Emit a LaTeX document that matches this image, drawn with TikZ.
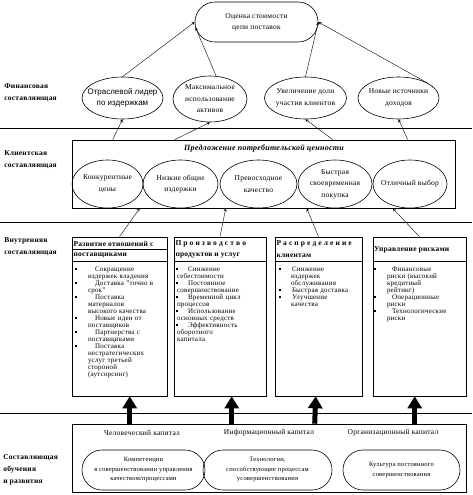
\documentclass[tikz,border=0pt]{standalone}
\usepackage{fontspec}
\setmainfont[LetterSpace=3]{Liberation Serif}
\setsansfont{Liberation Sans}
\usepackage{tikz}
\usetikzlibrary{shapes.geometric,shapes.misc,arrows.meta}

% bullet lists inside the process boxes
\newlength{\pcont}\newlength{\pbul}\newlength{\pfirst}
\newcommand{\pktset}[3]{\setlength{\pcont}{#1}\setlength{\pbul}{#2}\setlength{\pfirst}{#3}}
\newcommand{\pkt}[1]{\par\leftskip=\pcont\noindent\rlap{\hspace*{\dimexpr\pbul-\pcont\relax}\rule[1.5pt]{1.7pt}{1.7pt}}\hspace*{\dimexpr\pfirst-\pcont\relax}#1\par}

\begin{document}
\begin{tikzpicture}[x=1pt,y=-1pt,line width=0.6pt,
  every node/.style={inner sep=0pt},
  txt/.style={font=\fontsize{7.5}{11.5}\selectfont,align=center},
  oval/.style={draw,ellipse,inner xsep=-12pt,inner ysep=-2pt,txt},
  stage/.style={font=\bfseries\fontsize{7.5}{12}\selectfont,align=left,anchor=west},
  procbox/.style={draw,minimum height=159pt},
  hdr/.style={font=\bfseries\fontsize{7.5}{9}\selectfont,anchor=west},
  lst/.style={anchor=north west,align=left,font=\fontsize{7}{7}\selectfont},
  sepline/.style={line width=0.8pt},
  link/.style={-stealth,line width=0.4pt},
  bigarrow/.style={-{Triangle[length=12pt,width=14pt]},line width=5pt}]
\useasboundingbox (0,0) rectangle (472,495);

% layer separators
\draw[sepline] (0,128) -- (472,128);
\draw[sepline] (0,222) -- (472,222);
\draw[sepline] (0,413) -- (472,413);

% layer names
\node[stage] (lfin) at (4,93) {Финансовая\\составляющая};
\node[stage] (lcust) at (4,159.5) {Клиентская\\составляющая};
\node[stage] (lproc) at (4,246.5) {Внутренняя\\составляющая};
\node[stage] (llearn) at (3,470) {Составляющая\\обучения\\и развития};

% top
\node[draw,rounded rectangle,minimum width=123pt,minimum height=40pt,txt] (cost) at (256.5,22) {Оценка стоимости\\цепи поставок};

% financial
\node[oval,minimum width=81pt,minimum height=42pt,font=\sffamily\fontsize{8}{11.5}\selectfont] (fin1) at (122.5,98) {Отраслевой лидер\\по издержкам};
\node[oval,minimum width=74pt,minimum height=46pt] (fin2) at (210,99) {Максимальное\\использование\\активов};
\node[oval,minimum width=82pt,minimum height=42pt] (fin3) at (305.5,98) {Увеличение доли\\участия клиентов};
\node[oval,minimum width=81pt,minimum height=42pt] (fin4) at (398.5,98) {Новые источники\\доходов};
\draw[link] (fin1.north) -- (cost.west);
\draw[link] (fin2.75) -- (cost.185);
\draw[link] (fin3.north) -- (cost.east);
\draw[link] (fin4.north east) -- (cost.east);

% customer
\node[draw,minimum width=383pt,minimum height=68pt] (cust) at (263.5,174) {};
\node[font=\bfseries\itshape\fontsize{8}{10}\selectfont] (offer) at (264,148) {Предложение потребительской ценности};
\node[oval,minimum width=71pt,minimum height=48pt] (val1) at (107.5,184) {Конкурентные\\цены};
\node[oval,minimum width=75pt,minimum height=48pt] (val2) at (180.5,184) {Низкие общие\\издержки};
\node[oval,minimum width=77pt,minimum height=48pt] (val3) at (258.5,184) {Превосходное\\качество};
\node[oval,minimum width=74pt,minimum height=48pt] (val4) at (335,184) {Быстрая\\своевременная\\покупка};
\node[oval,minimum width=74pt,minimum height=48pt] (val5) at (410,184) {Отличный выбор};
\draw[link] ([xshift=41pt]cust.north west) -- (fin1.south);
\draw[link] ([xshift=103pt]cust.north west) -- (fin2.south);
\draw[link] ([xshift=261pt]cust.north west) -- (fin3.south);
\draw[link] ([xshift=336pt]cust.north west) -- (fin4.south);

% internal processes
\node[procbox,minimum width=95pt] (proc1) at (119.5,316.5) {};
\node[procbox,minimum width=92pt] (proc2) at (220,316.5) {};
\node[procbox,minimum width=87pt] (proc3) at (318.5,316.5) {};
\node[procbox,minimum width=93pt] (proc4) at (419.5,316.5) {};
\draw ([yshift=-13pt]proc1.north west) -- ([yshift=-13pt]proc1.north east);
\foreach \p in {proc1,proc2,proc3,proc4}
  \draw ([yshift=-25pt]\p.north west) -- ([yshift=-25pt]\p.north east);

\node[hdr] (h1a) at ([xshift=1.5pt,yshift=-7pt]proc1.north west) {Развитие отношений с};
\node[hdr] (h1b) at ([xshift=1.5pt,yshift=-19pt]proc1.north west) {поставщиками};
\node[hdr] (h2a) at ([xshift=1.5pt,yshift=-7pt]proc2.north west) {П р о и з в о д с т в о};
\node[hdr] (h2b) at ([xshift=1.5pt,yshift=-19pt]proc2.north west) {продуктов и услуг};
\node[hdr] (h3a) at ([xshift=1.5pt,yshift=-7pt]proc3.north west) {Р а с п р е д е л е н и е};
\node[hdr] (h3b) at ([xshift=1.5pt,yshift=-19pt]proc3.north west) {клиентам};
\node[hdr] (h4) at ([xshift=1pt,yshift=-13pt]proc4.north west) {Управление рисками};

\node[lst,text width=95pt] (list1) at ([yshift=-27pt]proc1.north west) {\pktset{16pt}{3pt}{23pt}%
  \pkt{Сокращение\\издержек владения}
  \pkt{Доставка "точно в\\срок"}
  \pkt{Поставка\\материалов\\высокого качества}
  \pkt{Новые идеи от\\поставщиков}
  \pkt{Партнерства с\\поставщиками}
  \pkt{Поставка\\нестратегических\\услуг третьей\\стороной\\(аутсорсинг)}};
\node[lst,text width=92pt] (list2) at ([yshift=-27pt]proc2.north west) {\pktset{3pt}{2pt}{14pt}%
  \pkt{Снижение\\себестоимости}
  \pkt{Постоянное\\совершенствование}
  \pkt{Временной цикл\\процессов}
  \pkt{Использование\\основных средств}
  \pkt{Эффективность\\оборотного\\капитала}};
\node[lst,text width=87pt] (list3) at ([yshift=-27pt]proc3.north west) {\pktset{16pt}{4pt}{17pt}%
  \pkt{Снижение\\издержек\\обслуживания}
  \pkt{Быстрая доставка}
  \pkt{Улучшение\\качества}};
\node[lst,text width=93pt] (list4) at ([yshift=-27pt]proc4.north west) {\pktset{14pt}{1pt}{19pt}%
  \pkt{Финансовые\\риски (высокий\\кредитный\\рейтинг)}
  \pkt{Операционные\\риски}
  \pkt{Технологические\\риски}};

\draw[link] (proc1.north) -- ([xshift=68pt]cust.south west);
\draw[link] (proc2.north) -- ([xshift=154pt]cust.south west);
\draw[link] (proc3.north) -- ([xshift=235pt]cust.south west);
\draw[link] (proc4.north) -- ([xshift=321pt]cust.south west);

% learning and growth
\node[draw,minimum width=394pt,minimum height=68pt] (learn) at (269,458) {};
\node[txt] (hc1) at (142,433) {Человеческий капитал};
\node[txt] (hc2) at (269,433) {Информационный капитал};
\node[txt] (hc3) at (393,433) {Организационный капитал};
\node[draw,rounded corners=20pt,minimum width=123pt,minimum height=40pt,align=center,font=\fontsize{6.5}{9.5}\selectfont] (cap1) at (143.5,470) {Компетенции\\в совершенствовании управления\\качеством/процессами};
\node[draw,rounded corners=20pt,minimum width=129pt,minimum height=40pt,align=center,font=\fontsize{6.5}{9.5}\selectfont] (cap2) at (267.5,470) {Технологии,\\способствующие процессам\\усовершенствования};
\node[draw,rounded corners=20pt,minimum width=117pt,minimum height=40pt,align=center,font=\fontsize{6.5}{9.5}\selectfont] (cap3) at (401.5,470) {Культура постоянного\\совершенствования};

\draw[bigarrow] ([xshift=58pt]learn.north west) -- ([xshift=58pt]proc1.south west);
\draw[bigarrow] ([xshift=160pt]learn.north west) -- ([xshift=58pt]proc2.south west);
\draw[bigarrow] ([xshift=243pt]learn.north west) -- ([xshift=41pt]proc3.south west);
\draw[bigarrow] ([xshift=343pt]learn.north west) -- ([xshift=42pt]proc4.south west);
\end{tikzpicture}
\end{document}
